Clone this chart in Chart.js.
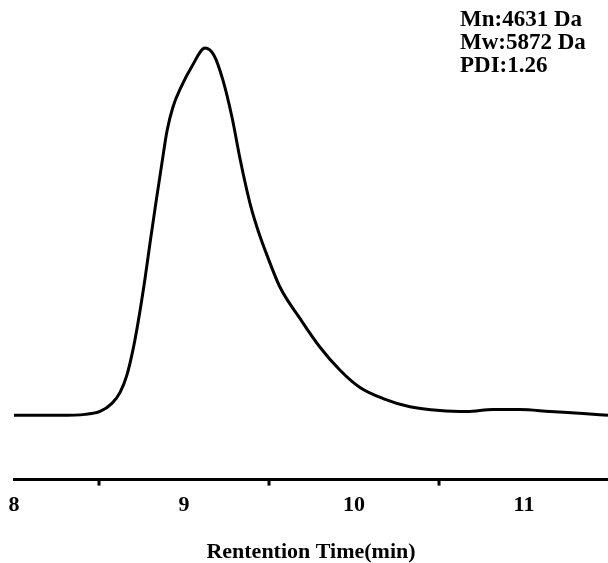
<!DOCTYPE html>
<html>
<head>
<meta charset="utf-8">
<script src="https://cdn.jsdelivr.net/npm/chart.js@4"></script>
<style>
  html, body { margin: 0; padding: 0; background: #fff; }
  #wrap { position: relative; width: 608px; height: 563px; }
  #info {
    position: absolute; left: 460px; top: 7px;
    font: bold 23px "Liberation Serif", "Times New Roman", serif;
    line-height: 23px; color: #000; white-space: nowrap;
  }
</style>
</head>
<body>
<div id="wrap">
  <canvas id="chart" width="608" height="563"></canvas>
  <div id="info">Mn:4631 Da<br>Mw:5872 Da<br>PDI:1.26</div>
</div>
<script>
// retention time (min) and detector signal (a.u.)
const time = [8.000, 8.271, 8.418, 8.506, 8.576, 8.624, 8.665, 8.700, 8.729, 8.771, 8.800, 8.835, 8.871, 8.900,
  8.935, 8.982, 9.047, 9.124, 9.176, 9.229, 9.282, 9.329, 9.359, 9.394, 9.435, 9.488, 9.565, 9.682, 9.800,
  9.918, 10.035, 10.171, 10.329, 10.506, 10.665, 10.818, 10.976, 11.153, 11.347, 11.494];
const signal = [13.4, 13.4, 13.6, 14.2, 15.9, 18.2, 21.9, 27.1, 32.6, 42.0, 49.3, 57.8, 66.2, 72.7,
  77.7, 81.8, 86.2, 90.0, 88.5, 83.3, 75.6, 67.0, 62.0, 56.8, 52.0, 46.8, 40.1, 33.6, 27.6,
  22.8, 19.2, 16.9, 15.2, 14.4, 14.2, 14.6, 14.6, 14.2, 13.8, 13.4];
const minorTicks = [8.5, 9.5, 10.5];

const points = time.map((t, i) => ({ x: t, y: signal[i] }));
const serif = '"Liberation Serif", "Times New Roman", serif';

const minorTickPlugin = {
  id: 'minorTicks',
  afterDraw(chart) {
    const xs = chart.scales.x;
    const ctx = chart.ctx;
    const y0 = chart.chartArea.bottom;
    ctx.save();
    ctx.strokeStyle = '#000';
    ctx.lineWidth = 3;
    minorTicks.forEach(v => {
      const px = xs.getPixelForValue(v);
      ctx.beginPath();
      ctx.moveTo(px, y0);
      ctx.lineTo(px, y0 + 6);
      ctx.stroke();
    });
    ctx.restore();
  }
};

new Chart(document.getElementById('chart'), {
  type: 'line',
  data: {
    datasets: [{
      data: points,
      borderColor: '#000',
      borderWidth: 3,
      pointRadius: 0,
      fill: false,
      cubicInterpolationMode: 'monotone'
    }]
  },
  options: {
    responsive: false,
    animation: false,
    layout: { padding: { top: 0, right: 0, left: 14, bottom: 0 } },
    plugins: { legend: { display: false }, tooltip: { enabled: false } },
    scales: {
      x: {
        type: 'linear',
        min: 8,
        max: 11.494,
        border: { display: true, color: '#000', width: 3 },
        grid: { display: false, drawOnChartArea: false, drawTicks: true, tickLength: 9, tickWidth: 3, tickColor: '#000' },
        ticks: {
          stepSize: 1,
          includeBounds: false,
          color: '#000',
          padding: 4,
          maxRotation: 0,
          font: { family: serif, size: 22, weight: 'bold' },
          callback: v => Number.isInteger(v) ? String(v) : ''
        },
        title: {
          display: true,
          text: 'Rentention Time(min)',
          color: '#000',
          font: { family: serif, size: 22, weight: 'bold', lineHeight: 1 },
          padding: { top: 18, bottom: 0 }
        }
      },
      y: {
        display: false,
        min: 0,
        max: 100
      }
    }
  },
  plugins: [minorTickPlugin]
});
</script>
</body>
</html>
